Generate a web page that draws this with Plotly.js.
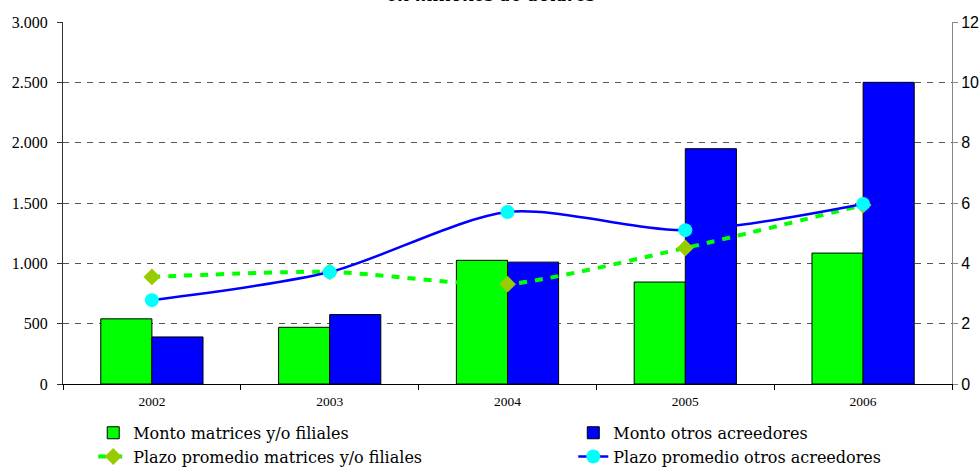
<!DOCTYPE html>
<html>
<head>
<meta charset="utf-8">
<script src="https://cdn.plot.ly/plotly-3.0.1.min.js"></script>
<style>html,body{margin:0;padding:0;background:#fff;}#chart{width:980px;height:469px;}</style>
</head>
<body>
<div id="chart"></div>
<script>
const years = ["2002", "2003", "2004", "2005", "2006"];
const montoMatrices = [540, 470, 1025, 845, 1085];
const montoOtros = [390, 575, 1010, 1950, 2500];
const plazoMatrices = [3.55, 3.72, 3.31, 4.51, 5.93];
const plazoOtros = [2.78, 3.71, 5.70, 5.10, 5.97];
const leftTicks = [0, 500, 1000, 1500, 2000, 2500, 3000];
const rightTicks = [0, 2, 4, 6, 8, 10, 12];

const serif = "Liberation Serif, Times New Roman, serif";
const legSerif = "DejaVu Serif, serif";
const sans = "Liberation Sans, Arial, sans-serif";

const traces = [
  {type: "bar", name: "Monto matrices y/o filiales", x: years, y: montoMatrices,
   legend: "legend", legendgroup: "a",
   marker: {color: "#00ff00", line: {color: "#000", width: 1}}},
  {type: "bar", name: "Monto otros acreedores", x: years, y: montoOtros,
   legend: "legend2", legendgroup: "b",
   marker: {color: "#0000ff", line: {color: "#000", width: 1}}},
  {type: "scatter", mode: "lines+markers", name: "Plazo promedio matrices y/o filiales",
   x: years, y: plazoMatrices, yaxis: "y2", legend: "legend", legendgroup: "c",
   line: {color: "#00ff00", width: 4, dash: "8px,8px", shape: "spline", smoothing: 0.6},
   marker: {symbol: "diamond", size: 13, color: "#99cc00"}},
  {type: "scatter", mode: "lines+markers", name: "Plazo promedio otros acreedores",
   x: years, y: plazoOtros, yaxis: "y2", legend: "legend2", legendgroup: "d",
   line: {color: "#0000ff", width: 2.5, shape: "spline", smoothing: 0.8},
   marker: {symbol: "circle", size: 14, color: "#00ffff"}}
];

const legendBase = {orientation: "v", xanchor: "left", y: -0.088, yanchor: "top",
  traceorder: "normal", tracegroupgap: 10, bgcolor: "rgba(0,0,0,0)",
  font: {family: legSerif, size: 16, color: "#000"}};

const layout = {
  width: 980, height: 469,
  margin: {l: 63, r: 28, t: 22, b: 85, autoexpand: false},
  paper_bgcolor: "#fff", plot_bgcolor: "#fff",
  separators: ",.",
  barmode: "group", bargap: 0.425, bargroupgap: 0,
  showlegend: true,
  legend: Object.assign({}, legendBase, {x: 0.034}),
  legend2: Object.assign({}, legendBase, {x: 0.574}),
  xaxis: {type: "category", showline: true, linecolor: "#000", linewidth: 1,
    ticks: "outside", tickson: "boundaries", ticklen: 5, tickcolor: "#000",
    ticklabelstandoff: 5,
    tickfont: {family: serif, size: 13.5, color: "#000"}, showgrid: false},
  yaxis: {range: [0, 3000], tickvals: leftTicks, tickformat: ",", showline: true,
    linecolor: "#333", linewidth: 1, ticks: "outside", ticklen: 5, tickcolor: "#333",
    ticklabelstandoff: 6,
    showgrid: true, gridcolor: "#555", griddash: "6px,6px", gridwidth: 1, zeroline: false,
    tickfont: {family: serif, size: 16, color: "#000"}},
  yaxis2: {range: [0, 12], tickvals: rightTicks, overlaying: "y", side: "right",
    showline: true, linecolor: "#888", linewidth: 1, ticks: "outside", ticklen: 5,
    tickcolor: "#888", showgrid: false, zeroline: false,
    tickfont: {family: sans, size: 16, color: "#000"}},
  annotations: [{text: "en millones de dólares", xref: "paper", yref: "paper",
    x: 0.482, y: 1, yshift: 15, yanchor: "bottom", xanchor: "center", showarrow: false,
    font: {family: legSerif, size: 16.5, color: "#000", weight: "bold", style: "italic"}}]
};

Plotly.newPlot("chart", traces, layout, {displayModeBar: false, staticPlot: true});
</script>
</body>
</html>
